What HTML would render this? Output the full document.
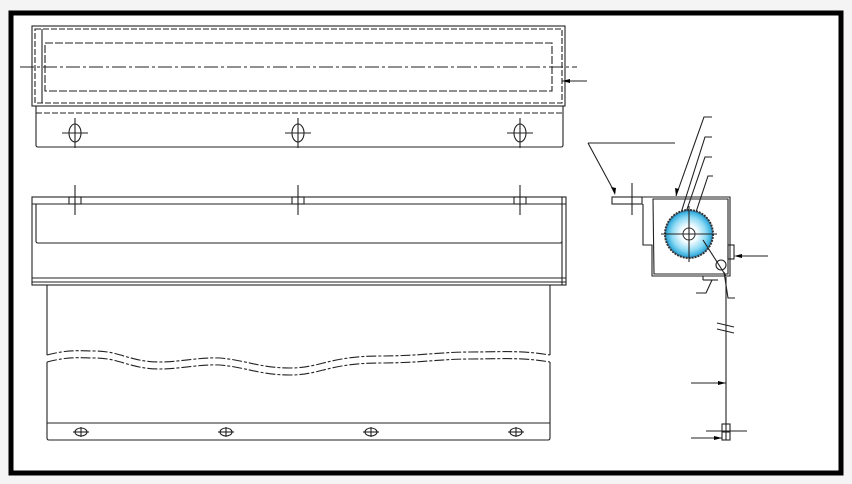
<!DOCTYPE html>
<html><head><style>
html,body{margin:0;padding:0;background:#fff;width:852px;height:484px;overflow:hidden}
</style></head><body>
<svg width="852" height="484" viewBox="0 0 852 484" xmlns="http://www.w3.org/2000/svg">
<defs>
<radialGradient id="g" cx="50%" cy="50%" r="50%">
<stop offset="0.35" stop-color="#f4fcff"/><stop offset="0.7" stop-color="#8fdaf3"/><stop offset="0.9" stop-color="#3fb4e2"/><stop offset="1" stop-color="#2a80b0"/>
</radialGradient>
</defs>
<rect x="0" y="0" width="852" height="484" fill="#f4f4f4"/>
<rect x="13" y="15" width="830" height="460" fill="#999" opacity="0.5"/>
<rect x="11" y="13" width="830" height="460" fill="#fff" stroke="#000" stroke-width="5"/>
<g fill="none" stroke="#222" stroke-width="1.1">
<rect x="32" y="26" width="533" height="80"/>
<rect x="35" y="29" width="527" height="74" stroke-dasharray="6,2"/>
<line x1="42" y1="29" x2="42" y2="103"/>
<rect x="45" y="43" width="507" height="48" stroke-dasharray="8,2"/>
<line x1="20" y1="67" x2="577" y2="67" stroke-dasharray="14,3,3,3"/>
<path d="M36 106 V145 Q36 147 38 147 H561 Q563 147 563 145 V106"/>
<line x1="36" y1="113" x2="563" y2="113" stroke-dasharray="6,2"/>
<g>
<ellipse cx="75" cy="133" rx="6" ry="9"/><line x1="62" y1="133" x2="88" y2="133"/><line x1="75" y1="118" x2="75" y2="148"/>
<ellipse cx="298" cy="133" rx="6" ry="9"/><line x1="285" y1="133" x2="311" y2="133"/><line x1="298" y1="118" x2="298" y2="148"/>
<ellipse cx="520" cy="133" rx="6" ry="9"/><line x1="507" y1="133" x2="533" y2="133"/><line x1="520" y1="118" x2="520" y2="148"/>
</g>
<line x1="562" y1="81" x2="587" y2="81"/>
<rect x="32" y="197" width="534" height="88"/>
<line x1="32" y1="204" x2="566" y2="204"/>
<line x1="562" y1="197" x2="562" y2="285"/>
<path d="M36 204 V241 Q36 243 38 243 H560 Q562 243 562 241"/>
<line x1="32" y1="278" x2="566" y2="278"/>
<line x1="32" y1="282" x2="566" y2="282"/>
<g>
<rect x="69" y="197" width="12" height="7"/><line x1="75" y1="185" x2="75" y2="215"/>
<rect x="292" y="197" width="12" height="7"/><line x1="298" y1="185" x2="298" y2="215"/>
<rect x="514" y="197" width="12" height="7"/><line x1="520" y1="185" x2="520" y2="215"/>
</g>
<path d="M47 285 V355 M47 362 V438 Q47 440 49 440 H548 Q550 440 550 438 V362 M550 355 V285"/>
<path d="M47 355 C70 349 80 351 95 351 C120 351 130 362 160 362 C180 362 200 357 220 358 C245 360 260 368 290 368 C320 368 330 356 380 356 C420 356 440 352 470 352 C500 352 520 350 550 355" stroke-dasharray="10,2,3,2"/>
<path d="M47 362 C70 356 80 358 95 358 C120 358 130 369 160 369 C180 369 200 364 220 365 C245 367 260 375 290 375 C320 375 330 363 380 363 C420 363 440 359 470 359 C500 359 520 357 550 362" stroke-dasharray="10,2,3,2"/>
<line x1="47" y1="423" x2="550" y2="423"/>
<g>
<ellipse cx="81" cy="432" rx="6" ry="4"/><line x1="73" y1="432" x2="89" y2="432"/><line x1="81" y1="427" x2="81" y2="437"/>
<ellipse cx="226" cy="432" rx="6" ry="4"/><line x1="218" y1="432" x2="234" y2="432"/><line x1="226" y1="427" x2="226" y2="437"/>
<ellipse cx="371" cy="432" rx="6" ry="4"/><line x1="363" y1="432" x2="379" y2="432"/><line x1="371" y1="427" x2="371" y2="437"/>
<ellipse cx="516" cy="432" rx="6" ry="4"/><line x1="508" y1="432" x2="524" y2="432"/><line x1="516" y1="427" x2="516" y2="437"/>
</g>
<rect x="612" y="197" width="30" height="7"/>
<line x1="632" y1="183" x2="632" y2="215"/>
<path d="M642 197 H730 V276 H652 V245 H643 V204"/>
<path d="M653 199 H728 V274 H654 Z"/>
<rect x="728" y="245" width="6" height="14"/>
<line x1="703" y1="276" x2="703" y2="280"/>
<path d="M703 280 H718"/>
<line x1="588" y1="143" x2="675" y2="143"/>
<line x1="588" y1="143" x2="615" y2="193"/>
<path d="M676 196 L704 117 H712"/>
<path d="M680 216 L705 137 H712"/>
<path d="M684 218 L705 157 H712"/>
<path d="M694 218 L708 176 H713"/>
<line x1="737" y1="256" x2="768" y2="256"/>
</g>
<circle cx="689" cy="234" r="24" fill="url(#g)" stroke="#333" stroke-width="2" stroke-dasharray="2,1"/>
<circle cx="689" cy="234" r="6" fill="#fff" stroke="#333"/>
<g stroke="#222" fill="none" stroke-width="1.1">
<line x1="661" y1="234" x2="717" y2="234"/><line x1="689" y1="206" x2="689" y2="262"/>
<line x1="703" y1="240" x2="726" y2="276"/>
<circle cx="721" cy="265" r="5"/>
<path d="M724 272 L728 298 H735"/>
<path d="M712 280 L706 293 H696"/>
<line x1="726" y1="277" x2="726" y2="440"/>
<line x1="717" y1="323" x2="734" y2="327"/><line x1="717" y1="329" x2="734" y2="333"/>
<line x1="691" y1="383" x2="726" y2="383"/>
<rect x="722" y="424" width="8" height="16"/><line x1="722" y1="432" x2="730" y2="432"/>
<line x1="706" y1="431" x2="747" y2="431"/>
<line x1="691" y1="438" x2="722" y2="438"/>
</g>
<g fill="#000">
<polygon points="562,81 570,79 570,83"/>
<polygon points="615,195 611,187 616,188"/>
<polygon points="676,196 675,188 679,189"/>
<polygon points="734,256 742,254 742,258"/>
<polygon points="726,383 718,381 718,385"/>
<polygon points="722,438 714,436 714,440"/>
</g>
</svg>
</body></html>
